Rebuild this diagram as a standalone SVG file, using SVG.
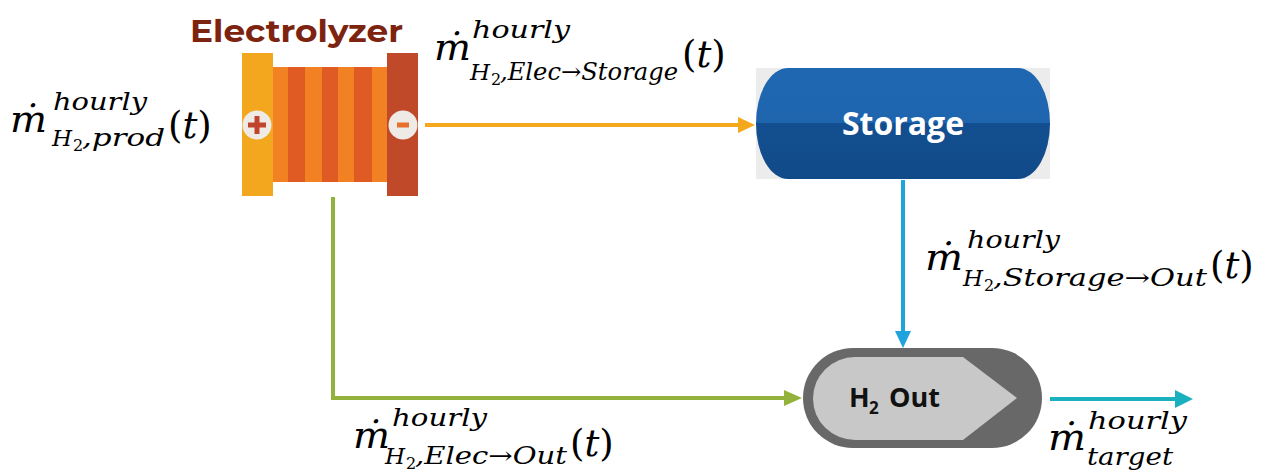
<svg xmlns="http://www.w3.org/2000/svg" width="1266" height="472" viewBox="0 0 1266 472">
  <defs>
    <style>
      .mi { font-family: "DejaVu Serif", "Liberation Serif", serif; font-style: italic; fill: #000; }
      .big { font-size: 37px; }
      .sc { font-size: 24px; }
      .hh { font-size: 23px; }
      .s2 { font-size: 16px; font-style: normal; }
      .up { font-style: normal; }
      .lbl { font-family: "Open Sans", "Liberation Sans", sans-serif; font-weight: 700; }
      .flow { fill: none; stroke-width: 4; }
    </style>
    <marker id="ah-orange" markerUnits="userSpaceOnUse" markerWidth="18" markerHeight="16" refX="0" refY="8" orient="auto">
      <path d="M0,0 L17,8 L0,16 z" fill="#f5a81c"/>
    </marker>
    <marker id="ah-blue" markerUnits="userSpaceOnUse" markerWidth="18" markerHeight="16" refX="0" refY="8" orient="auto">
      <path d="M0,0 L17,8 L0,16 z" fill="#1fa3dc"/>
    </marker>
    <marker id="ah-green" markerUnits="userSpaceOnUse" markerWidth="19" markerHeight="16" refX="0" refY="8" orient="auto">
      <path d="M0,0 L18,8 L0,16 z" fill="#92b23b"/>
    </marker>
    <marker id="ah-teal" markerUnits="userSpaceOnUse" markerWidth="19" markerHeight="18" refX="0" refY="9" orient="auto">
      <path d="M0,0 L18,9 L0,18 z" fill="#1bb0be"/>
    </marker>
    <linearGradient id="tank" x1="0" y1="0" x2="0" y2="1">
      <stop offset="0" stop-color="#1f67b1"/>
      <stop offset="0.5" stop-color="#1e65ae"/>
      <stop offset="0.5" stop-color="#134f90"/>
      <stop offset="1" stop-color="#114a88"/>
    </linearGradient>
  </defs>

  <rect width="1266" height="472" fill="#ffffff"/>

  <!-- connectors -->
  <g id="connectors">
    <line class="flow" x1="425" y1="125" x2="738" y2="125" stroke="#f5a81c" stroke-width="3.5" marker-end="url(#ah-orange)"/>
    <line class="flow" x1="903" y1="180" x2="903" y2="331" stroke="#1fa3dc" marker-end="url(#ah-blue)"/>
    <polyline class="flow" points="333,197 333,398 784,398" stroke="#92b23b" marker-end="url(#ah-green)"/>
    <line class="flow" x1="1050" y1="399" x2="1175" y2="399" stroke="#1bb0be" marker-end="url(#ah-teal)"/>
  </g>

  <!-- electrolyzer stack -->
  <g id="electrolyzer">
    <text x="190" y="42" font-family="Montserrat, 'Liberation Sans', sans-serif" font-weight="700" font-size="30" fill="#7d2410" textLength="213" lengthAdjust="spacingAndGlyphs">Electrolyzer</text>
    <rect x="273" y="67" width="114" height="115" fill="#f28124"/>
    <rect x="288" y="67" width="17" height="115" fill="#e05a24"/>
    <rect x="322" y="67" width="16" height="115" fill="#e05a24"/>
    <rect x="354" y="67" width="18" height="115" fill="#e05a24"/>
    <rect x="242" y="53" width="31" height="143" fill="#f2a71f"/>
    <rect x="387" y="53" width="31" height="143" fill="#c0492a"/>
    <circle cx="257" cy="125" r="14.5" fill="#eeeae6"/>
    <rect x="248" y="122.5" width="18" height="5" fill="#c1452a"/>
    <rect x="254.5" y="116" width="5" height="18" fill="#c1452a"/>
    <circle cx="403" cy="125" r="14.5" fill="#eeeae6"/>
    <rect x="397" y="122.5" width="12" height="5" fill="#e8702a"/>
  </g>

  <!-- storage tank -->
  <g id="storage">
    <rect x="756" y="68" width="294" height="111" fill="#ececec"/>
    <rect x="756" y="68" width="294" height="111" rx="32" ry="55.5" fill="url(#tank)"/>
    <text class="lbl" x="903" y="135" font-size="32" fill="#ffffff" text-anchor="middle">Storage</text>
  </g>

  <!-- H2 output -->
  <g id="h2-out">
    <rect x="803" y="348" width="239" height="100" rx="50" ry="50" fill="#686868"/>
    <path d="M855,357 L963,357 L1017,398 L963,440 L855,440 A42,41.5 0 0 1 855,357 Z" fill="#c8c8c8"/>
    <text class="lbl" x="849" y="407" font-size="27" fill="#111111">H</text>
    <text class="lbl" x="869" y="414" font-size="17" fill="#111111">2</text>
    <text class="lbl" x="889" y="407" font-size="27" fill="#111111">Out</text>
  </g>

  <!-- flow labels -->
  <g id="label-prod">
    <text class="mi big" x="10" y="132" textLength="37" lengthAdjust="spacingAndGlyphs">ṁ</text>
    <text class="mi sc" x="53" y="110" textLength="94" lengthAdjust="spacingAndGlyphs">hourly</text>
    <text class="mi hh" x="52" y="146">H</text>
    <text class="mi s2" x="73" y="151">2</text>
    <text class="mi sc" x="82" y="146" textLength="83" lengthAdjust="spacingAndGlyphs">,prod</text>
    <text class="mi big" x="168" y="138"><tspan class="up">(</tspan>t<tspan class="up">)</tspan></text>
  </g>

  <g id="label-elec-storage">
    <text class="mi big" x="434" y="60" textLength="37" lengthAdjust="spacingAndGlyphs">ṁ</text>
    <text class="mi sc" x="472" y="38" textLength="98" lengthAdjust="spacingAndGlyphs">hourly</text>
    <text class="mi hh" x="470" y="80">H</text>
    <text class="mi s2" x="491" y="85">2</text>
    <text class="mi sc" x="500" y="80" textLength="178" lengthAdjust="spacingAndGlyphs">,Elec→Storage</text>
    <text class="mi big" x="682" y="67"><tspan class="up">(</tspan>t<tspan class="up">)</tspan></text>
  </g>

  <g id="label-storage-out">
    <text class="mi big" x="925" y="270" textLength="38" lengthAdjust="spacingAndGlyphs">ṁ</text>
    <text class="mi sc" x="967" y="248" textLength="93" lengthAdjust="spacingAndGlyphs">hourly</text>
    <text class="mi hh" x="963" y="286">H</text>
    <text class="mi s2" x="984" y="291">2</text>
    <text class="mi sc" x="993" y="286" textLength="214" lengthAdjust="spacingAndGlyphs">,Storage→Out</text>
    <text class="mi big" x="1210" y="278"><tspan class="up">(</tspan>t<tspan class="up">)</tspan></text>
  </g>

  <g id="label-elec-out">
    <text class="mi big" x="353" y="448" textLength="37" lengthAdjust="spacingAndGlyphs">ṁ</text>
    <text class="mi sc" x="392" y="426" textLength="95" lengthAdjust="spacingAndGlyphs">hourly</text>
    <text class="mi hh" x="385" y="464">H</text>
    <text class="mi s2" x="406" y="469">2</text>
    <text class="mi sc" x="415" y="464" textLength="152" lengthAdjust="spacingAndGlyphs">,Elec→Out</text>
    <text class="mi big" x="570" y="456"><tspan class="up">(</tspan>t<tspan class="up">)</tspan></text>
  </g>

  <g id="label-target">
    <text class="mi big" x="1048" y="450" textLength="38" lengthAdjust="spacingAndGlyphs">ṁ</text>
    <text class="mi sc" x="1088" y="429" textLength="99" lengthAdjust="spacingAndGlyphs">hourly</text>
    <text class="mi sc" x="1087" y="465" textLength="86" lengthAdjust="spacingAndGlyphs">target</text>
  </g>
</svg>
